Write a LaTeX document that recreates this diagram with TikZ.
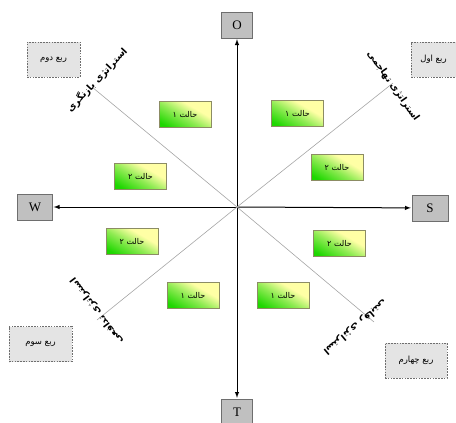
\documentclass[tikz,border=0pt]{standalone}
\usepackage{fontspec}
\setmainfont{Liberation Serif}
\newfontfamily\arabicfont[Script=Arabic]{DejaVu Sans}
\TeXXeTstate=1
\usepackage{tikz}
\usetikzlibrary{arrows}
\newcommand{\fa}[1]{\beginR #1\endR}
\definecolor{boxgray}{RGB}{192,192,192}
\definecolor{boxedge}{RGB}{110,110,110}
\definecolor{quadgray}{RGB}{228,228,228}
\definecolor{diaggray}{RGB}{165,165,165}
\definecolor{stategreen}{RGB}{30,215,0}
\definecolor{stateyellow}{RGB}{255,255,165}
\definecolor{stateedge}{RGB}{140,140,100}
\pgfdeclareverticalshading{stateshade}{100bp}{color(0bp)=(stategreen); color(22bp)=(stategreen); color(45bp)=(stategreen!50!stateyellow); color(64bp)=(stateyellow); color(100bp)=(stateyellow)}
\tikzstyle{axisbox}=[draw=boxedge,fill=boxgray,thin,minimum width=31pt,minimum height=26pt,inner sep=0pt,font=\fontsize{13}{13}\selectfont]
\tikzstyle{quadbox}=[draw=boxedge,thin,dash pattern=on 1.6pt off 1.2pt,fill=quadgray,minimum height=35pt,inner sep=0pt,font=\arabicfont\fontsize{8.5}{10}\selectfont]
\tikzstyle{statebox}=[draw=stateedge,thin,shading=stateshade,shading angle=-30,minimum width=52pt,minimum height=26pt,inner sep=0pt,font=\arabicfont\fontsize{8}{10}\selectfont]
\tikzstyle{strategy}=[inner sep=0pt,font=\arabicfont\bfseries\fontsize{9.5}{11}\selectfont]
\tikzstyle{diag}=[draw=diaggray,line width=0.6pt]

\begin{document}
\begin{tikzpicture}[x=1pt,y=-1pt,>=latex,line width=1pt]
\useasboundingbox (0,0) rectangle (456,423);
% axes
\draw (237,25) node [axisbox] (O) {O};
\draw (237,412) node [axisbox] (T) {T};
\draw (35,207) node [axisbox,minimum width=35pt] (W) {W};
\draw (430,208) node [axisbox,minimum width=36pt] (S) {S};
\coordinate (c) at (237,207);
\draw[->,shorten >=1pt] (c) -- (O);
\draw[->,shorten >=1pt] (c) -- (T);
\draw[->,shorten >=1pt] (c) -- (W);
\draw[->,shorten >=1pt] (c) -- (S);
% diagonals
\coordinate (d1) at (393,83);
\coordinate (d2) at (92,87);
\coordinate (d3) at (97,320);
\coordinate (d4) at (374,322);
\draw[diag] (c) -- (d1);
\draw[diag] (c) -- (d2);
\draw[diag] (c) -- (d3);
\draw[diag] (c) -- (d4);
% quadrants
\draw (433.5,59.5) node [quadbox,minimum width=45pt] (q1) {\fa{ربع اول}};
\draw (53.5,59.5) node [quadbox,minimum width=53pt] (q2) {\fa{ربع دوم}};
\draw (40.5,344) node [quadbox,minimum width=63pt] (q3) {\fa{ربع سوم}};
\draw (416,360.5) node [quadbox,minimum width=62pt] (q4) {\fa{ربع چهارم}};
% strategies
\draw (393,86) node [strategy,rotate=-55] (s1) {\fa{استراتژی تهاجمی}};
\draw (97,80) node [strategy,rotate=47] (s2) {\fa{استراتژی بازنگری}};
\draw (97,311) node [strategy,rotate=127] (s3) {\fa{استراتژی تدافعی}};
\draw (355,327) node [strategy,rotate=220] (s4) {\fa{استراتژی رقابتی}};
% states
\draw (297.5,113.5) node [statebox] (a1) {\fa{حالت ۱}};
\draw (337,167) node [statebox] (a2) {\fa{حالت ۲}};
\draw (185,114) node [statebox] (b1) {\fa{حالت ۱}};
\draw (140.5,176) node [statebox] (b2) {\fa{حالت ۲}};
\draw (193,295) node [statebox] (c1) {\fa{حالت ۱}};
\draw (132,241) node [statebox] (c2) {\fa{حالت ۲}};
\draw (283,295) node [statebox] (e1) {\fa{حالت ۱}};
\draw (339.5,243.5) node [statebox] (e2) {\fa{حالت ۲}};
\end{tikzpicture}
\end{document}
